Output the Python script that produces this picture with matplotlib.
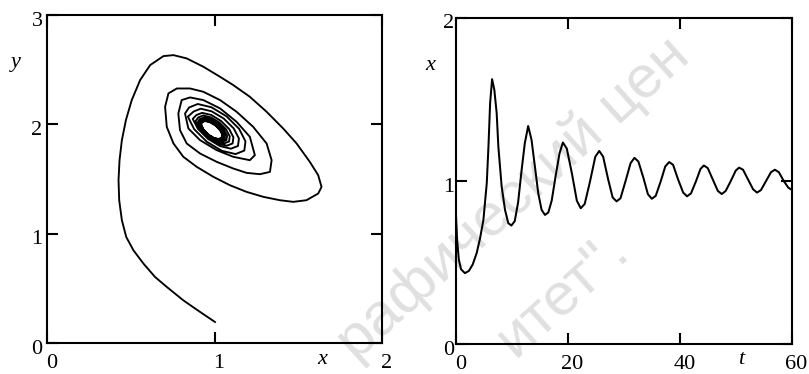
import matplotlib
matplotlib.use("Agg")
import matplotlib.pyplot as plt
from matplotlib.transforms import ScaledTranslation

# ---------------- data ----------------
# left panel: phase trajectory (x, y)
phase_x = [1.003, 0.914, 0.814, 0.715, 0.645, 0.576, 0.516, 0.473, 0.447, 0.431,
           0.427, 0.433, 0.447, 0.471, 0.506, 0.556, 0.616, 0.695, 0.755, 0.834,
           0.933, 1.033, 1.112, 1.211, 1.311, 1.410, 1.490, 1.569, 1.619, 1.639,
           1.619, 1.549, 1.470, 1.390, 1.291, 1.192, 1.092, 0.993, 0.894, 0.814,
           0.755, 0.715, 0.705, 0.725, 0.775, 0.854, 0.933, 1.033, 1.132, 1.231,
           1.311, 1.341, 1.331, 1.271, 1.192, 1.112, 1.013, 0.914, 0.834, 0.794,
           0.784, 0.804, 0.854, 0.933, 1.033, 1.132, 1.211, 1.241, 1.211, 1.112,
           1.013, 0.914, 0.844, 0.824,
           0.848, 0.900, 0.982, 1.072, 1.147, 1.185, 1.178, 1.126, 1.044, 0.954, 0.879, 0.841,
           0.876, 0.918, 0.983, 1.055, 1.115, 1.146, 1.140, 1.098, 1.033, 0.961, 0.901, 0.870,
           0.892, 0.926, 0.980, 1.039, 1.088, 1.113, 1.108, 1.074, 1.020, 0.961, 0.912, 0.887,
           0.903, 0.932, 0.978, 1.028, 1.069, 1.091, 1.087, 1.058, 1.012, 0.962, 0.921, 0.899,
           0.911, 0.936, 0.976, 1.020, 1.056, 1.075, 1.071, 1.046, 1.006, 0.962, 0.926, 0.907,
           0.916, 0.939, 0.974, 1.014, 1.046, 1.063, 1.060, 1.037, 1.002, 0.962, 0.930, 0.913,
           0.920, 0.941, 0.974, 1.010, 1.039, 1.055, 1.052, 1.031, 0.998, 0.962, 0.933, 0.917,
           0.923, 0.942, 0.973, 1.007, 1.035, 1.050, 1.047, 1.028, 0.997, 0.963, 0.935, 0.920,
           0.925, 0.944, 0.973, 1.005, 1.032, 1.046, 1.043, 1.024, 0.995, 0.963, 0.936, 0.923]
phase_y = [0.192, 0.284, 0.390, 0.513, 0.604, 0.726, 0.848, 0.970, 1.123, 1.306,
           1.489, 1.672, 1.855, 2.038, 2.222, 2.405, 2.542, 2.624, 2.633, 2.603,
           2.527, 2.435, 2.359, 2.252, 2.115, 1.962, 1.825, 1.657, 1.535, 1.428,
           1.367, 1.306, 1.291, 1.306, 1.337, 1.382, 1.443, 1.520, 1.611, 1.703,
           1.825, 1.977, 2.160, 2.283, 2.328, 2.328, 2.298, 2.222, 2.115, 1.977,
           1.825, 1.672, 1.565, 1.544, 1.556, 1.596, 1.657, 1.733, 1.825, 1.947,
           2.099, 2.222, 2.246, 2.222, 2.146, 2.023, 1.886, 1.718, 1.672, 1.703,
           1.764, 1.855, 1.962, 2.099,
           2.154, 2.186, 2.156, 2.073, 1.959, 1.844, 1.760, 1.728, 1.758, 1.841, 1.955, 2.070,
           2.118, 2.143, 2.119, 2.053, 1.962, 1.870, 1.802, 1.777, 1.801, 1.867, 1.959, 2.050,
           2.085, 2.105, 2.086, 2.031, 1.956, 1.881, 1.825, 1.805, 1.824, 1.879, 1.954, 2.029,
           2.063, 2.081, 2.064, 2.018, 1.954, 1.890, 1.843, 1.826, 1.842, 1.888, 1.952, 2.016,
           2.047, 2.062, 2.048, 2.007, 1.952, 1.896, 1.855, 1.840, 1.854, 1.895, 1.950, 2.006,
           2.036, 2.050, 2.037, 2.001, 1.951, 1.901, 1.864, 1.850, 1.863, 1.899, 1.949, 1.999,
           2.028, 2.041, 2.029, 1.995, 1.950, 1.904, 1.870, 1.858, 1.869, 1.903, 1.948, 1.994,
           2.022, 2.034, 2.023, 1.992, 1.949, 1.906, 1.874, 1.862, 1.873, 1.904, 1.947, 1.991,
           2.018, 2.030, 2.019, 1.990, 1.949, 1.908, 1.878, 1.866, 1.877, 1.907, 1.947, 1.988]

# right panel: x(t)
time_t = [0, 0.2, 0.5, 0.9, 1.6, 2.3, 3.0, 3.7, 4.3, 4.9,
          5.5, 5.8, 6.1, 6.45, 6.85, 7.27, 7.57, 8.16, 8.76, 9.35,
          9.9, 10.5, 11.1, 11.7, 12.3, 12.9, 13.5, 14.1, 14.7, 15.3,
          15.9, 16.5, 17.1, 17.8, 18.5, 19.1, 19.8, 20.7, 21.6, 22.3,
          23.0, 23.9, 24.9, 25.6, 26.3, 27.2, 28.0, 28.7, 29.4, 30.3,
          31.2, 31.9, 32.6, 33.5, 34.3, 35.0, 35.7, 36.6, 37.4, 38.1,
          38.8, 39.7, 40.6, 41.3, 42.0, 42.9, 43.7, 44.3, 45.0, 45.9,
          46.8, 47.5, 48.2, 49.1, 50.0, 50.6, 51.3, 52.2, 53.1, 53.8,
          54.5, 55.4, 56.3, 57.0, 57.7, 58.6, 59.4, 60]
time_x = [0.79, 0.64, 0.52, 0.46, 0.436, 0.45, 0.49, 0.56, 0.65, 0.763,
          0.988, 1.212, 1.479, 1.625, 1.56, 1.417, 1.212, 0.967, 0.824, 0.742,
          0.728, 0.755, 0.870, 1.060, 1.233, 1.338, 1.253, 1.09, 0.926, 0.824,
          0.793, 0.808, 0.88, 1.03, 1.17, 1.237, 1.20, 1.05, 0.88, 0.834,
          0.86, 0.99, 1.15, 1.185, 1.15, 1.01, 0.90, 0.876, 0.895, 1.0,
          1.11, 1.143, 1.12, 1.02, 0.92, 0.892, 0.91, 1.0, 1.09, 1.117,
          1.10, 1.01, 0.93, 0.907, 0.925, 1.0, 1.075, 1.096, 1.08, 1.01,
          0.94, 0.921, 0.94, 1.0, 1.065, 1.083, 1.07, 1.01, 0.95, 0.930,
          0.945, 1.0, 1.055, 1.070, 1.055, 1.0, 0.96, 0.947]

left_xticks = [0, 1, 2]
left_yticks = [0, 1, 2, 3]
right_xticks = [0, 20, 40, 60]
right_yticks = [0, 1, 2]

watermark_1 = "рафический цен"
watermark_2 = "итет\"."

# ---------------- figure ----------------
W, H = 809, 374
fig = plt.figure(figsize=(W / 100, H / 100), dpi=100)
fig.patch.set_facecolor("white")

serif = ["Liberation Serif", "DejaVu Serif"]
FS = 16

ax1 = fig.add_axes([47 / W, 31 / H, 335 / W, 328 / H])
ax2 = fig.add_axes([456 / W, 29.7 / H, 335.7 / W, 326.3 / H])

ax1.plot(phase_x, phase_y, color="black", lw=1.35, solid_joinstyle="round")
ax2.plot(time_t, time_x, color="black", lw=1.45, solid_joinstyle="round")

ax1.set_xlim(0, 2)
ax1.set_ylim(0, 3)
ax2.set_xlim(0, 60)
ax2.set_ylim(0, 2)

ax1.set_xticks(left_xticks)
ax1.set_yticks(left_yticks)
ax2.set_xticks(right_xticks)
ax2.set_yticks(right_yticks)

for ax, ypad in ((ax1, 3.2), (ax2, 1.2)):
    ax.set_facecolor("none")
    for s in ax.spines.values():
        s.set_linewidth(1.5)
    ax.tick_params(axis="both", direction="in", length=8, width=1.5,
                   top=True, right=True, labelsize=FS, color="black")
    ax.tick_params(axis="x", pad=8)
    ax.tick_params(axis="y", pad=ypad)
    for lab in ax.get_xticklabels():
        lab.set_family(serif)
        lab.set_transform(lab.get_transform() +
                          ScaledTranslation(4.5 / 100, 0, fig.dpi_scale_trans))
    for lab in ax.get_yticklabels():
        lab.set_family(serif)
        lab.set_transform(lab.get_transform() +
                          ScaledTranslation(0, -3.5 / 100, fig.dpi_scale_trans))


def ftext(px, py, s, **kw):
    fig.text(px / W, 1 - py / H, s, **kw)


lab_kw = dict(fontsize=FS, family=serif, style="italic", ha="center", va="center")
ftext(15.5, 63, "y", **lab_kw)
ftext(322, 360, "x", **lab_kw)
ftext(430, 65, "x", **lab_kw)
ftext(741, 360, "t", **lab_kw)

# faint diagonal watermark behind the plots (kept fully inside the figure)
wm_kw = dict(fontsize=43, family=["Liberation Sans", "DejaVu Sans"], color="#e0e0e0",
             rotation=42, rotation_mode="anchor", ha="left", va="baseline", zorder=-5)
ftext(356, 362, watermark_1, **wm_kw)
ftext(515, 358, watermark_2, **wm_kw)

fig.savefig("out.png", dpi=100)
